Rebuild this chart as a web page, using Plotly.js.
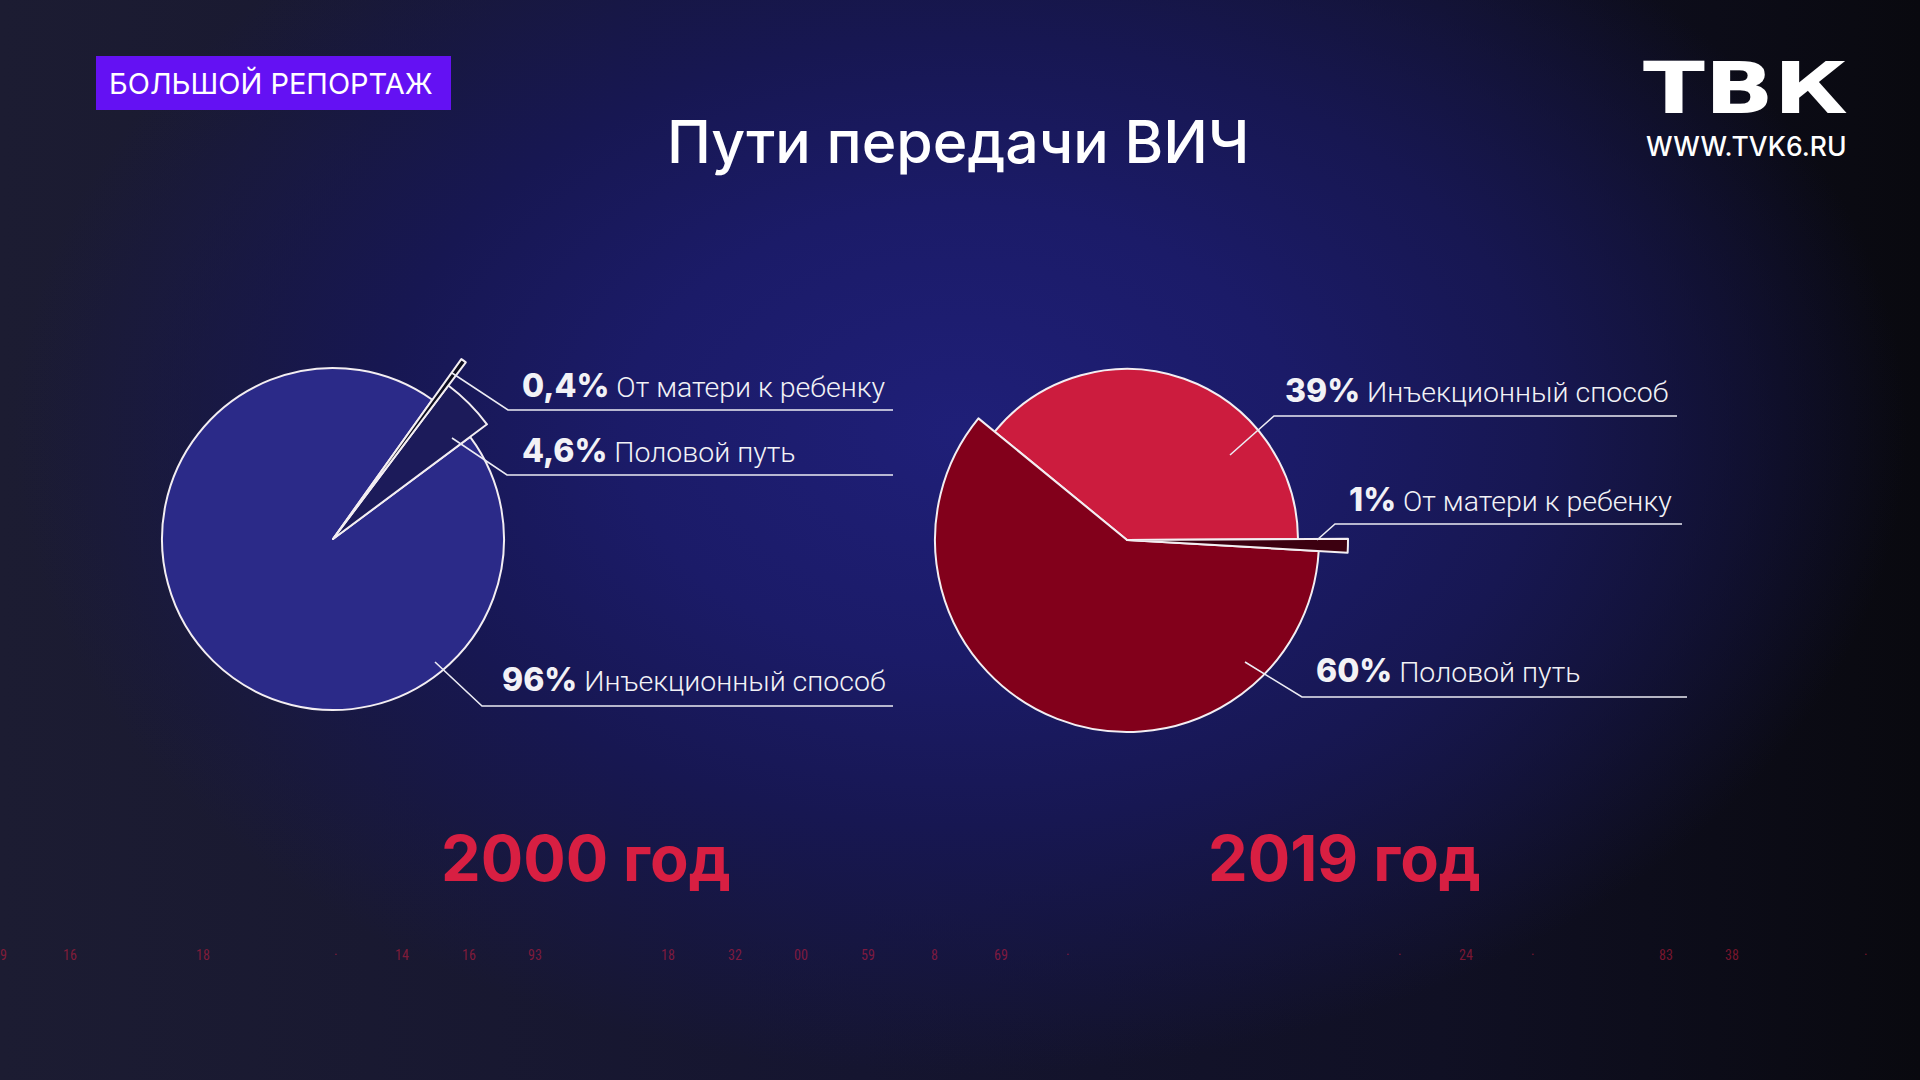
<!DOCTYPE html>
<html>
<head>
<meta charset="utf-8">
<script src="https://cdn.plot.ly/plotly-3.0.1.min.js"></script>
<style>
  html, body { margin: 0; padding: 0; width: 1920px; height: 1080px; overflow: hidden; }
  body {
    background:
      radial-gradient(ellipse 58% 70% at 50% 40%, #1f1f78 0%, #1b1b68 30%, #171752 52%, rgba(18,18,40,0) 85%),
      linear-gradient(90deg, #1c1c32 0%, #151530 45%, #101024 75%, #09090f 100%);
  }
  #chart { width: 1920px; height: 1080px; }
</style>
</head>
<body>
<div id="chart"></div>
<script>
// ---------------- data ----------------
const chartTitle = 'Пути передачи ВИЧ';
const years = ['2000 год', '2019 год'];

const categories2000 = ['От матери к ребенку', 'Половой путь', 'Инъекционный способ'];
const values2000 = [0.4, 4.6, 96];
const pctLabels2000 = ['0,4%', '4,6%', '96%'];

const categories2019 = ['Инъекционный способ', 'От матери к ребенку', 'Половой путь'];
const values2019 = [39, 1, 60];
const pctLabels2019 = ['39%', '1%', '60%'];

const badgeText = 'БОЛЬШОЙ РЕПОРТАЖ';
const logoText = 'ТВК';
const siteText = 'WWW.TVK6.RU';
const tickerDigits = ['9','16','','18','','·','14','16','93','','18','32','00','59','8','69','·','','','','','·','24','·','','83','38','','·'];

// ---------------- layout / style ----------------
const W = 1920, H = 1080;
const px = x => x / W;
const py = y => 1 - y / H;

const pies = [
  {
    values: values2000, cats: categories2000, pcts: pctLabels2000,
    cx: 333, cy: 539, rotation: 35.5,
    radii: [221, 192, 171],
    colors: ['#0d0d1c', '#1c1b5a', '#2b2a88'],
    labelPos: [[520, 398], [520, 463], [500, 692]],
    leaders: [[[452, 373], [508, 410], [893, 410]],
              [[452, 438], [507, 475], [893, 475]],
              [[435, 662], [482, 706], [893, 706]]],
    yearX: 586
  },
  {
    values: values2019, cats: categories2019, pcts: pctLabels2019,
    cx: 1127, cy: 540, rotation: -50.7,
    radii: [171, 221, 192],
    colors: ['#cc1c3e', '#3c0010', '#82001b'],
    labelPos: [[1283, 403], [1347, 512], [1314, 683]],
    leaders: [[[1230, 455], [1274, 416], [1677, 416]],
              [[1317, 540], [1335, 524], [1682, 524]],
              [[1245, 662], [1302, 697], [1687, 697]]],
    yearX: 1344
  }
];

const outline = '#f3eef2';
const traces = [];
const annotations = [];
const shapes = [];

// badge
shapes.push({type: 'rect', xref: 'paper', yref: 'paper',
  x0: px(96), x1: px(451), y0: py(110), y1: py(56),
  fillcolor: '#6411f3', line: {width: 0}, layer: 'below'});

pies.forEach(p => {
  // draw slices in order of radius (smallest first)
  const order = p.values.map((v, i) => i).sort((a, b) => p.radii[a] - p.radii[b]);
  order.forEach(i => {
    const R = p.radii[i];
    traces.push({
      type: 'pie',
      values: p.values,
      labels: p.cats,
      sort: false,
      direction: 'clockwise',
      rotation: p.rotation,
      textinfo: 'none',
      hoverinfo: 'skip',
      showlegend: false,
      domain: {x: [px(p.cx - R), px(p.cx + R)], y: [py(p.cy + R), py(p.cy - R)]},
      marker: {
        colors: p.values.map((v, j) => j === i ? p.colors[j] : 'rgba(0,0,0,0)'),
        line: {color: outline, width: p.values.map((v, j) => j === i ? 2 : 0)}
      }
    });
  });

  p.values.forEach((v, i) => {
    const [lx, ly] = p.labelPos[i];
    annotations.push({
      xref: 'paper', yref: 'paper', x: px(lx), y: py(ly + 9),
      xanchor: 'left', yanchor: 'bottom', showarrow: false, align: 'left',
      text: '<span style="font-family:Inter;font-weight:800;font-size:32px">' + p.pcts[i] + '</span> ' + p.cats[i],
      font: {family: 'Roboto', size: 28.5, color: '#f2f2f6', weight: 300}
    });
    const L = p.leaders[i];
    shapes.push({type: 'path', xref: 'paper', yref: 'paper',
      path: 'M ' + L.map(q => px(q[0]) + ' ' + py(q[1])).join(' L '),
      line: {color: '#ececf4', width: 1.6}});
  });
});

years.forEach((t, k) => {
  annotations.push({
    xref: 'paper', yref: 'paper', x: px(pies[k].yearX), y: py(898),
    xanchor: 'center', yanchor: 'bottom', showarrow: false,
    text: t, font: {family: 'Inter', size: 63, color: '#d81f42', weight: 700}
  });
});

// title
annotations.push({
  xref: 'paper', yref: 'paper', x: px(958), y: py(179),
  xanchor: 'center', yanchor: 'bottom', showarrow: false,
  text: chartTitle, font: {family: 'Inter', size: 59, color: '#ffffff', weight: 500}
});

// badge text
annotations.push({
  xref: 'paper', yref: 'paper', x: px(107), y: py(103),
  xanchor: 'left', yanchor: 'bottom', showarrow: false,
  text: badgeText, font: {family: 'Inter', size: 29, color: '#ffffff', weight: 400}
});

// logo
annotations.push({
  xref: 'paper', yref: 'paper', x: px(1662), y: py(132),
  xanchor: 'left', yanchor: 'bottom', showarrow: false,
  text: logoText, font: {family: 'DejaVu Sans', size: 72, color: '#ffffff', weight: 700}
});
annotations.push({
  xref: 'paper', yref: 'paper', x: px(1644), y: py(164),
  xanchor: 'left', yanchor: 'bottom', showarrow: false,
  text: siteText, font: {family: 'Inter', size: 26.5, color: '#ffffff', weight: 500}
});

// faint ticker digits
tickerDigits.forEach((d, i) => {
  if (!d) return;
  annotations.push({
    xref: 'paper', yref: 'paper', x: px(3 + i * 66.5), y: py(955),
    xanchor: 'center', yanchor: 'middle', showarrow: false,
    text: d, font: {family: 'Roboto Condensed, Roboto', size: 14, color: 'rgba(215,30,65,0.55)'}
  });
});

const layout = {
  width: W, height: H,
  margin: {l: 0, r: 0, t: 0, b: 0},
  paper_bgcolor: 'rgba(0,0,0,0)',
  plot_bgcolor: 'rgba(0,0,0,0)',
  showlegend: false,
  shapes: shapes,
  annotations: annotations
};

Plotly.newPlot('chart', traces, layout, {staticPlot: true, displayModeBar: false}).then(gd => {
  // widen the logo letters to match the broadcaster mark
  gd.querySelectorAll('.annotation-text').forEach(t => {
    if (t.textContent === logoText) {
      t.setAttribute('textLength', '205');
      t.setAttribute('lengthAdjust', 'spacingAndGlyphs');
    }
  });
});
</script>
</body>
</html>
